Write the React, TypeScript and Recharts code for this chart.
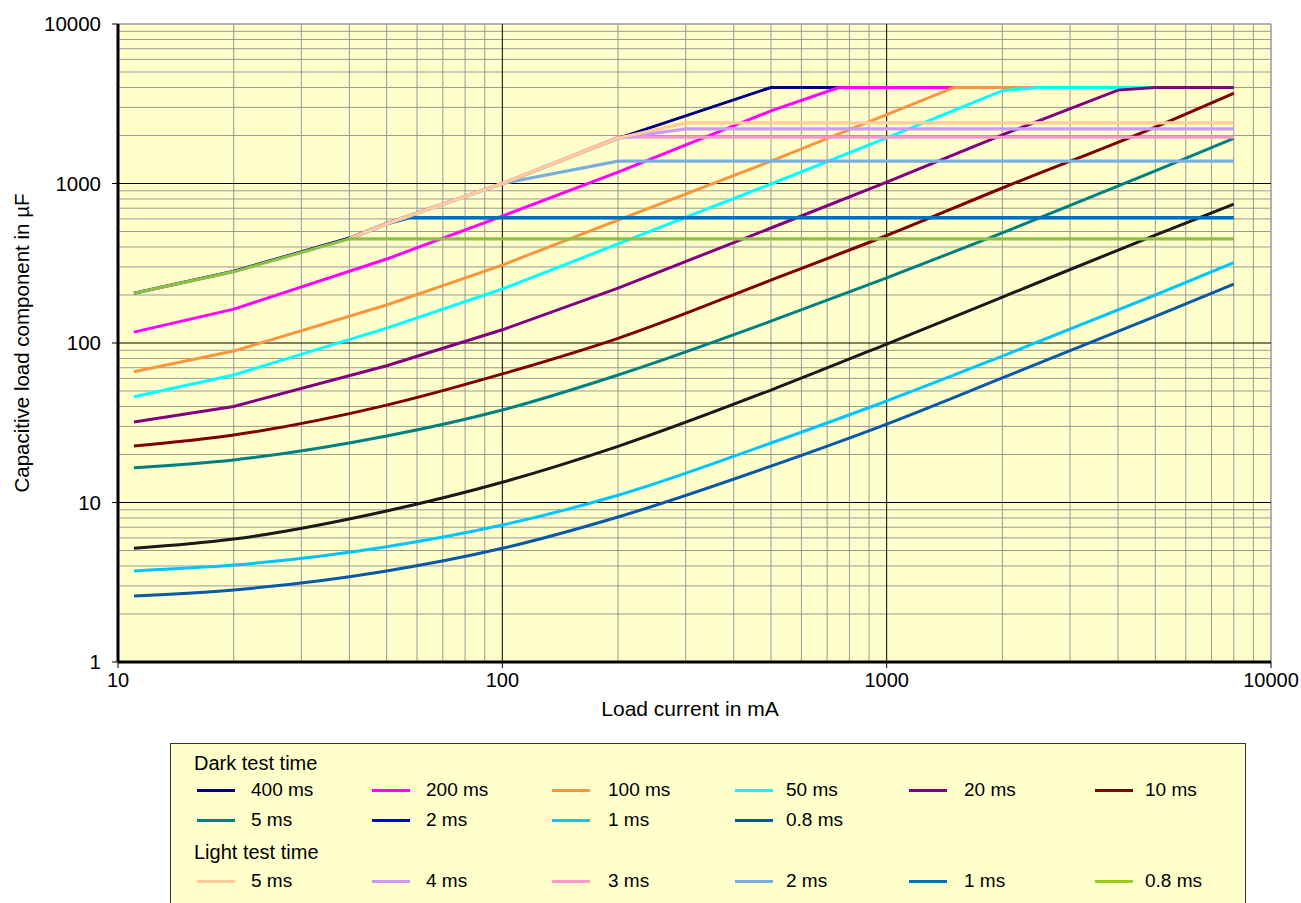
import React from 'react';
import { LineChart, Line, XAxis, YAxis, ReferenceLine, ReferenceArea } from 'recharts';

// load current in mA (x) for the dark curves
const darkX = [11, 20, 50, 100, 200, 500, 1000, 2000, 5000, 8000];

// dark test time, capacitive load in µF
const dark400X = [11, 20, 40, 50, 100, 200, 500, 8000];
const dark400Y = [205, 282, 455, 562, 1000, 1920, 4000, 4000];
const dark200X = [11, 20, 50, 100, 200, 500, 750, 8000];
const dark200Y = [117, 163, 336, 625, 1180, 2850, 4000, 4000];
const dark100X = [11, 20, 50, 100, 200, 500, 1000, 1500, 8000];
const dark100Y = [66, 89, 173, 308, 590, 1380, 2700, 4000, 4000];
const dark50X = [11, 20, 50, 100, 200, 500, 1000, 2000, 2500, 8000];
const dark50Y = [46, 63, 124, 218, 418, 993, 1930, 3820, 4000, 4000];
const dark20X = [11, 20, 50, 100, 200, 500, 1000, 2000, 4000, 5000, 8000];
const dark20Y = [32, 40, 72, 121, 221, 526, 1020, 2020, 3850, 4000, 4000];
const dark10Y = [22.6, 26.5, 40.8, 64, 107, 248, 472, 937, 2260, 3680];
const dark5Y = [16.5, 18.5, 26.1, 38, 63, 137, 256, 490, 1200, 1920];
const dark2Y = [5.16, 5.9, 8.85, 13.4, 22.5, 50.7, 98.5, 194, 475, 743];
const dark1Y = [3.72, 4.05, 5.28, 7.22, 11.1, 23.6, 43.3, 82.8, 200, 319];
const dark08Y = [2.59, 2.83, 3.72, 5.16, 8.11, 16.9, 31, 60.4, 147, 234];

// light test time
const light5X = [40, 50, 100, 200, 300, 8000];
const light5Y = [450, 560, 1000, 1920, 2400, 2400];
const light4X = [40, 50, 100, 200, 300, 8000];
const light4Y = [450, 560, 1000, 1920, 2200, 2200];
const light3X = [40, 50, 100, 200, 8000];
const light3Y = [450, 560, 1000, 1950, 1950];
const light2X = [40, 50, 100, 200, 8000];
const light2Y = [450, 560, 1000, 1380, 1380];
const light1X = [40, 50, 57, 8000];
const light1Y = [450, 560, 610, 610];
const light08X = [11, 20, 40, 8000];
const light08Y = [205, 280, 450, 450];

// axis ticks and grid values
const xTicks = [10, 100, 1000, 10000];
const yTicks = [1, 10, 100, 1000, 10000];
const xMinor = [20, 30, 40, 50, 60, 70, 80, 90, 200, 300, 400, 500, 600, 700, 800, 900, 2000, 3000, 4000, 5000, 6000, 7000, 8000, 9000];
const yMinor = [2, 3, 4, 5, 6, 7, 8, 9, 20, 30, 40, 50, 60, 70, 80, 90, 200, 300, 400, 500, 600, 700, 800, 900, 2000, 3000, 4000, 5000, 6000, 7000, 8000, 9000];
const xMajor = [100, 1000];
const yMajor = [10, 100, 1000];

const toPoints = (xs: number[], ys: number[]) => xs.map((x, i) => ({ x, y: ys[i] }));

const FONT = '"Liberation Sans", Arial, sans-serif';

type Series = { key: string; color: string; data: { x: number; y: number }[]; curve: 'linear' | 'monotone'; width: number };

const series: Series[] = [
  { key: 'd400', color: '#000080', data: toPoints(dark400X, dark400Y), curve: 'linear', width: 3 },
  { key: 'd200', color: '#FF00FF', data: toPoints(dark200X, dark200Y), curve: 'linear', width: 3 },
  { key: 'd100', color: '#F7963F', data: toPoints(dark100X, dark100Y), curve: 'linear', width: 3 },
  { key: 'd50', color: '#00FFFF', data: toPoints(dark50X, dark50Y), curve: 'linear', width: 3 },
  { key: 'd20', color: '#800080', data: toPoints(dark20X, dark20Y), curve: 'linear', width: 3 },
  { key: 'd10', color: '#800000', data: toPoints(darkX, dark10Y), curve: 'monotone', width: 3 },
  { key: 'd5', color: '#008080', data: toPoints(darkX, dark5Y), curve: 'monotone', width: 3 },
  { key: 'd2', color: '#1A1A1A', data: toPoints(darkX, dark2Y), curve: 'monotone', width: 3 },
  { key: 'd1', color: '#00C4FF', data: toPoints(darkX, dark1Y), curve: 'monotone', width: 3 },
  { key: 'd08', color: '#0A58A8', data: toPoints(darkX, dark08Y), curve: 'monotone', width: 3 },
  { key: 'l1', color: '#0070C0', data: toPoints(light1X, light1Y), curve: 'linear', width: 3.6 },
  { key: 'l2', color: '#7AADE0', data: toPoints(light2X, light2Y), curve: 'linear', width: 3.2 },
  { key: 'l3', color: '#F59AC8', data: toPoints(light3X, light3Y), curve: 'linear', width: 3.2 },
  { key: 'l4', color: '#CC99FF', data: toPoints(light4X, light4Y), curve: 'linear', width: 3.2 },
  { key: 'l5', color: '#FFCC99', data: toPoints(light5X, light5Y), curve: 'linear', width: 3.2 },
  { key: 'l08', color: '#8DC044', data: toPoints(light08X, light08Y), curve: 'linear', width: 3.2 },
];

type LegendItem = { label: string; color: string };

const legendDark1: LegendItem[] = [
  { label: '400 ms', color: '#000080' },
  { label: '200 ms', color: '#FF00FF' },
  { label: '100 ms', color: '#F7963F' },
  { label: '50 ms', color: '#00FFFF' },
  { label: '20 ms', color: '#800080' },
  { label: '10 ms', color: '#800000' },
];
const legendDark2: LegendItem[] = [
  { label: '5 ms', color: '#008080' },
  { label: '2 ms', color: '#0000FF' },
  { label: '1 ms', color: '#00CCFF' },
  { label: '0.8 ms', color: '#0A58A8' },
];
const legendLight: LegendItem[] = [
  { label: '5 ms', color: '#FFCC99' },
  { label: '4 ms', color: '#CC99FF' },
  { label: '3 ms', color: '#FF99CC' },
  { label: '2 ms', color: '#7AADE0' },
  { label: '1 ms', color: '#0070C0' },
  { label: '0.8 ms', color: '#9CCB1C' },
];

const colIcon = [197, 372, 552, 735, 909, 1095];
const colText = [251, 426, 608, 786, 964, 1145];

const LegendRow = ({ items, y }: { items: LegendItem[]; y: number }) => (
  <>
    {items.map((it, i) => (
      <React.Fragment key={it.label + i}>
        <div style={{ position: 'absolute', left: colIcon[i], top: y - 1.5, width: 38, height: 3, background: it.color }} />
        <div style={{ position: 'absolute', left: colText[i], top: y - 12, height: 24, lineHeight: '24px', fontSize: 19, whiteSpace: 'nowrap' }}>
          {it.label}
        </div>
      </React.Fragment>
    ))}
  </>
);

const App: React.FC = () => {
  return (
    <div style={{ position: 'absolute', left: 0, top: 0, width: 1301, height: 903, overflow: 'hidden', background: '#fff', fontFamily: FONT, color: '#000' }}>
      <LineChart width={1301} height={700} margin={{ top: 24, right: 30, bottom: 0, left: 0 }}>
        <XAxis
          type="number"
          dataKey="x"
          scale="log"
          domain={[10, 10000]}
          ticks={xTicks}
          allowDataOverflow
          height={38}
          tick={{ fontSize: 20, fill: '#000', fontFamily: FONT }}
          tickSize={6}
          tickMargin={5}
          axisLine={{ stroke: '#000', strokeWidth: 3 }}
          tickLine={{ stroke: '#000' }}
        />
        <YAxis
          type="number"
          scale="log"
          domain={[1, 10000]}
          ticks={yTicks}
          allowDataOverflow
          width={118}
          tick={{ fontSize: 20.5, fill: '#000', fontFamily: FONT }}
          tickSize={6}
          tickMargin={11}
          axisLine={{ stroke: '#000', strokeWidth: 3 }}
          tickLine={{ stroke: '#000' }}
        />
        <ReferenceArea x1={10} x2={10000} y1={1} y2={10000} fill="#FFFFCC" fillOpacity={1} stroke="none" />
        {xMinor.map((v) => (
          <ReferenceLine key={'xm' + v} x={v} stroke="#999" strokeWidth={1} />
        ))}
        {yMinor.map((v) => (
          <ReferenceLine key={'ym' + v} y={v} stroke="#999" strokeWidth={1} />
        ))}
        <ReferenceLine x={10000} stroke="#999" strokeWidth={1.5} />
        <ReferenceLine y={10000} stroke="#999" strokeWidth={1.5} />
        {xMajor.map((v) => (
          <ReferenceLine key={'xM' + v} x={v} stroke="#000" strokeWidth={1} />
        ))}
        {yMajor.map((v) => (
          <ReferenceLine key={'yM' + v} y={v} stroke="#000" strokeWidth={1} />
        ))}
        {series.map((s) => (
          <Line
            key={s.key}
            data={s.data}
            dataKey="y"
            type={s.curve}
            stroke={s.color}
            strokeWidth={s.width}
            dot={false}
            activeDot={false}
            isAnimationActive={false}
          />
        ))}
      </LineChart>

      <div style={{ position: 'absolute', left: -178, top: 331, width: 400, height: 24, lineHeight: '24px', textAlign: 'center', fontSize: 20.5, transform: 'rotate(-90deg)', whiteSpace: 'nowrap' }}>
        Capacitive load component in µF
      </div>
      <div style={{ position: 'absolute', left: 490, top: 697, width: 400, height: 24, lineHeight: '24px', textAlign: 'center', fontSize: 21, whiteSpace: 'nowrap' }}>
        Load current in mA
      </div>

      <div style={{ position: 'absolute', left: 170, top: 743, width: 1076, height: 200, border: '1px solid #333', background: '#FFFFCC', boxSizing: 'border-box' }} />
      <div style={{ position: 'absolute', left: 0, top: 0, width: 1301, height: 903, fontSize: 19 }}>
        <div style={{ position: 'absolute', left: 194, top: 751, height: 24, lineHeight: '24px', fontSize: 20, whiteSpace: 'nowrap' }}>Dark test time</div>
        <LegendRow items={legendDark1} y={790} />
        <LegendRow items={legendDark2} y={820} />
        <div style={{ position: 'absolute', left: 194, top: 840, height: 24, lineHeight: '24px', fontSize: 20, whiteSpace: 'nowrap' }}>Light test time</div>
        <LegendRow items={legendLight} y={881} />
      </div>
    </div>
  );
};

export default App;
